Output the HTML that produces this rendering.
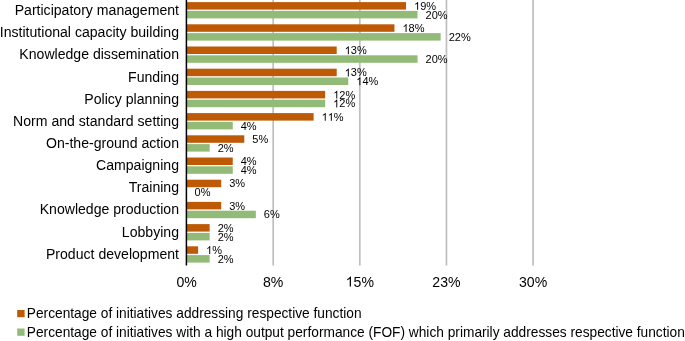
<!DOCTYPE html><html><head><meta charset="utf-8"><style>html,body{margin:0;padding:0;background:#fff;}body{width:685px;height:341px;overflow:hidden;}svg{display:block;will-change:transform;font-family:"Liberation Sans",sans-serif;}</style></head><body>
<svg width="685" height="341" viewBox="0 0 685 341">
<rect x="272.33" y="0" width="1.7" height="265.50" fill="#BFBFBF"/>
<rect x="358.96" y="0" width="1.7" height="265.50" fill="#BFBFBF"/>
<rect x="445.59" y="0" width="1.7" height="265.50" fill="#BFBFBF"/>
<rect x="532.22" y="0" width="1.7" height="265.50" fill="#BFBFBF"/>
<g fill="#000">
<rect x="186.55" y="2.10" width="219.46" height="7.5" fill="#BE5A06"/>
<rect x="186.55" y="10.90" width="231.01" height="7.5" fill="#93BB78"/>
<path d="M763 0L583 0L583 1147Q518 1085 412.5 1023Q307 961 223 930L223 1104Q374 1175 487 1276Q600 1377 647 1472L763 1472Z" transform="translate(414.01 9.79) scale(0.00537 -0.00537)"/>
<text x="420.13" y="9.79" font-size="11">9%</text>
<text x="425.56" y="18.59" font-size="11">20%</text>
<text x="179" y="15.49" font-size="14.08" text-anchor="end">Participatory management</text>
<rect x="186.55" y="24.30" width="207.91" height="7.5" fill="#BE5A06"/>
<rect x="186.55" y="33.10" width="254.11" height="7.5" fill="#93BB78"/>
<path d="M763 0L583 0L583 1147Q518 1085 412.5 1023Q307 961 223 930L223 1104Q374 1175 487 1276Q600 1377 647 1472L763 1472Z" transform="translate(402.46 31.99) scale(0.00537 -0.00537)"/>
<text x="408.58" y="31.99" font-size="11">8%</text>
<text x="448.66" y="40.79" font-size="11">22%</text>
<text x="179" y="37.49" font-size="14.08" text-anchor="end">Institutional capacity building</text>
<rect x="186.55" y="46.50" width="150.16" height="7.5" fill="#BE5A06"/>
<rect x="186.55" y="55.30" width="231.01" height="7.5" fill="#93BB78"/>
<path d="M763 0L583 0L583 1147Q518 1085 412.5 1023Q307 961 223 930L223 1104Q374 1175 487 1276Q600 1377 647 1472L763 1472Z" transform="translate(344.71 54.19) scale(0.00537 -0.00537)"/>
<text x="350.82" y="54.19" font-size="11">3%</text>
<text x="425.56" y="62.99" font-size="11">20%</text>
<text x="179" y="59.19" font-size="14.08" text-anchor="end">Knowledge dissemination</text>
<rect x="186.55" y="68.70" width="150.16" height="7.5" fill="#BE5A06"/>
<rect x="186.55" y="77.50" width="161.71" height="7.5" fill="#93BB78"/>
<path d="M763 0L583 0L583 1147Q518 1085 412.5 1023Q307 961 223 930L223 1104Q374 1175 487 1276Q600 1377 647 1472L763 1472Z" transform="translate(344.71 76.39) scale(0.00537 -0.00537)"/>
<text x="350.82" y="76.39" font-size="11">3%</text>
<path d="M763 0L583 0L583 1147Q518 1085 412.5 1023Q307 961 223 930L223 1104Q374 1175 487 1276Q600 1377 647 1472L763 1472Z" transform="translate(356.26 85.19) scale(0.00537 -0.00537)"/>
<text x="362.38" y="85.19" font-size="11">4%</text>
<text x="179" y="81.59" font-size="14.08" text-anchor="end">Funding</text>
<rect x="186.55" y="90.90" width="138.61" height="7.5" fill="#BE5A06"/>
<rect x="186.55" y="99.70" width="138.61" height="7.5" fill="#93BB78"/>
<path d="M763 0L583 0L583 1147Q518 1085 412.5 1023Q307 961 223 930L223 1104Q374 1175 487 1276Q600 1377 647 1472L763 1472Z" transform="translate(333.16 98.59) scale(0.00537 -0.00537)"/>
<text x="339.27" y="98.59" font-size="11">2%</text>
<path d="M763 0L583 0L583 1147Q518 1085 412.5 1023Q307 961 223 930L223 1104Q374 1175 487 1276Q600 1377 647 1472L763 1472Z" transform="translate(333.16 107.39) scale(0.00537 -0.00537)"/>
<text x="339.27" y="107.39" font-size="11">2%</text>
<text x="179" y="103.94" font-size="14.08" text-anchor="end">Policy planning</text>
<rect x="186.55" y="113.10" width="127.06" height="7.5" fill="#BE5A06"/>
<rect x="186.55" y="121.90" width="46.20" height="7.5" fill="#93BB78"/>
<path d="M763 0L583 0L583 1147Q518 1085 412.5 1023Q307 961 223 930L223 1104Q374 1175 487 1276Q600 1377 647 1472L763 1472Z" transform="translate(321.61 120.79) scale(0.00537 -0.00537)"/>
<path d="M763 0L583 0L583 1147Q518 1085 412.5 1023Q307 961 223 930L223 1104Q374 1175 487 1276Q600 1377 647 1472L763 1472Z" transform="translate(327.72 120.79) scale(0.00537 -0.00537)"/>
<text x="333.84" y="120.79" font-size="11">%</text>
<text x="240.75" y="129.59" font-size="11">4%</text>
<text x="179" y="126.14" font-size="14.08" text-anchor="end">Norm and standard setting</text>
<rect x="186.55" y="135.30" width="57.75" height="7.5" fill="#BE5A06"/>
<rect x="186.55" y="144.10" width="23.10" height="7.5" fill="#93BB78"/>
<text x="252.30" y="142.99" font-size="11">5%</text>
<text x="217.65" y="151.79" font-size="11">2%</text>
<text x="179" y="148.04" font-size="14.08" text-anchor="end">On-the-ground action</text>
<rect x="186.55" y="157.50" width="46.20" height="7.5" fill="#BE5A06"/>
<rect x="186.55" y="166.30" width="46.20" height="7.5" fill="#93BB78"/>
<text x="240.75" y="165.19" font-size="11">4%</text>
<text x="240.75" y="173.99" font-size="11">4%</text>
<text x="179" y="169.59" font-size="14.08" text-anchor="end">Campaigning</text>
<rect x="186.55" y="179.70" width="34.65" height="7.5" fill="#BE5A06"/>
<text x="229.20" y="187.39" font-size="11">3%</text>
<text x="194.55" y="196.19" font-size="11">0%</text>
<text x="179" y="192.39" font-size="14.08" text-anchor="end">Training</text>
<rect x="186.55" y="201.90" width="34.65" height="7.5" fill="#BE5A06"/>
<rect x="186.55" y="210.70" width="69.30" height="7.5" fill="#93BB78"/>
<text x="229.20" y="209.59" font-size="11">3%</text>
<text x="263.85" y="218.39" font-size="11">6%</text>
<text x="179" y="214.29" font-size="14.08" text-anchor="end">Knowledge production</text>
<rect x="186.55" y="224.10" width="23.10" height="7.5" fill="#BE5A06"/>
<rect x="186.55" y="232.90" width="23.10" height="7.5" fill="#93BB78"/>
<text x="217.65" y="231.79" font-size="11">2%</text>
<text x="217.65" y="240.59" font-size="11">2%</text>
<text x="179" y="236.69" font-size="14.08" text-anchor="end">Lobbying</text>
<rect x="186.55" y="246.30" width="11.55" height="7.5" fill="#BE5A06"/>
<rect x="186.55" y="255.10" width="23.10" height="7.5" fill="#93BB78"/>
<path d="M763 0L583 0L583 1147Q518 1085 412.5 1023Q307 961 223 930L223 1104Q374 1175 487 1276Q600 1377 647 1472L763 1472Z" transform="translate(206.10 253.99) scale(0.00537 -0.00537)"/>
<text x="212.22" y="253.99" font-size="11">%</text>
<text x="217.65" y="262.79" font-size="11">2%</text>
<text x="179" y="259.39" font-size="14.08" text-anchor="end">Product development</text>
<rect x="185.65" y="0" width="1.5" height="265.50"/>
<text x="176.38" y="286.60" font-size="14.08">0%</text>
<text x="263.01" y="286.60" font-size="14.08">8%</text>
<path d="M763 0L583 0L583 1147Q518 1085 412.5 1023Q307 961 223 930L223 1104Q374 1175 487 1276Q600 1377 647 1472L763 1472Z" transform="translate(345.72 286.60) scale(0.00688 -0.00688)"/>
<text x="353.55" y="286.60" font-size="14.08">5%</text>
<text x="432.35" y="286.60" font-size="14.08">23%</text>
<text x="518.98" y="286.60" font-size="14.08">30%</text>
</g>
<rect x="17.2" y="310" width="7.4" height="7.2" fill="#BE5A06"/>
<rect x="17.2" y="328.5" width="7.4" height="7.3" fill="#93BB78"/>
<text x="26.8" y="318" font-size="13.72" fill="#000">Percentage of initiatives addressing respective function</text>
<text x="26.8" y="337.0" font-size="13.72" fill="#000">Percentage of initiatives with a high output performance (FOF) which primarily addresses respective function</text>
</svg></body></html>
